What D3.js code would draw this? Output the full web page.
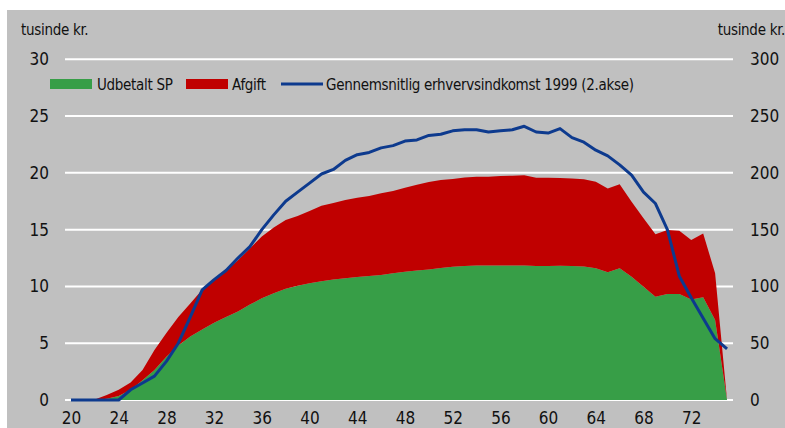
<!DOCTYPE html>
<meta charset="utf-8">
<style>
body { margin: 0; background: #fff; }
svg text { font-family: "Liberation Sans Narrow", "DejaVu Sans Condensed", sans-serif; fill: #111; }
.grid line { stroke: #fff; stroke-width: 2px; }
.avgline { fill: none; stroke: #0d3a8e; stroke-width: 3px; stroke-linejoin: round; }
</style>
<body>
<script src="https://d3js.org/d3.v7.min.js"></script>
<svg id="chart" width="785" height="428"></svg>
<script>
  var ages = d3.range(20, 76);
  var udbetalt = [0, 0, 0, 0.1, 0.35, 0.9, 1.75, 2.65, 3.8, 4.8,
                  5.6, 6.2, 6.8, 7.3, 7.8, 8.4, 8.95, 9.4, 9.8, 10.05,
                  10.27, 10.45, 10.62, 10.72, 10.82, 10.92, 11.0, 11.15, 11.3, 11.4,
                  11.5, 11.62, 11.74, 11.8, 11.85, 11.85, 11.85, 11.85, 11.85, 11.8,
                  11.8, 11.82, 11.8, 11.75, 11.6, 11.24, 11.6, 10.86, 9.98, 9.1,
                  9.33, 9.33, 8.86, 9.04, 7.04, 0];
  var afgift = [0, 0, 0.05, 0.35, 0.55, 0.65, 0.9, 1.75, 2.1, 2.5,
                2.9, 3.5, 3.7, 4.1, 4.5, 4.95, 5.45, 5.8, 6.05, 6.15,
                6.38, 6.65, 6.73, 6.88, 6.98, 7.05, 7.2, 7.25, 7.4, 7.55,
                7.7, 7.75, 7.71, 7.8, 7.81, 7.81, 7.87, 7.9, 7.93, 7.77,
                7.77, 7.72, 7.7, 7.68, 7.62, 7.39, 7.4, 6.6, 6.02, 5.5,
                5.63, 5.57, 5.22, 5.63, 4.11, 0];
  var indkomst = [0, 0, 0, 0, 0, 9, 15, 21, 34, 50,
                  73, 97, 106, 114, 125, 135, 150, 163, 175, 183,
                  191, 199, 203, 211, 216, 218, 222, 224, 228, 229,
                  233, 234, 237, 238, 238, 236, 237, 238, 241, 236,
                  235, 239, 231, 227, 220, 215, 207, 198, 183, 173,
                  150, 109, 90, 72, 54, 45];
  var leftTicks = [0, 5, 10, 15, 20, 25, 30];
  var rightTicks = [0, 50, 100, 150, 200, 250, 300];
  var xTicks = [20, 24, 28, 32, 36, 40, 44, 48, 52, 56, 60, 64, 68, 72];

  var plot = {left: 65, right: 733, top: 59.3, bottom: 400};

  var svg = d3.select('#chart');

  // grey panel
  svg.append('rect')
    .attr('x', 7).attr('y', 10)
    .attr('width', 778).attr('height', 418)
    .attr('fill', '#c0c0c0');

  var xScale = d3.scalePoint()
    .domain(ages)
    .range([plot.left, plot.right])
    .padding(0.5);
  var yLeft = d3.scaleLinear().domain([0, 30]).range([plot.bottom, plot.top]);
  var yRight = d3.scaleLinear().domain([0, 300]).range([plot.bottom, plot.top]);

  svg.append('g')
    .attr('class', 'grid')
    .selectAll('line')
    .data(leftTicks)
    .join('line')
      .attr('x1', plot.left).attr('x2', plot.right)
      .attr('y1', function(d) { return yLeft(d); })
      .attr('y2', function(d) { return yLeft(d); });

  var data = ages.map(function(a, i) {
    return {age: a, sp: udbetalt[i], afgift: afgift[i], ind: indkomst[i]};
  });
  var series = d3.stack().keys(['sp', 'afgift'])(data);
  var colors = {sp: '#379e47', afgift: '#c00000'};

  var area = d3.area()
    .x(function(d) { return xScale(d.data.age); })
    .y0(function(d) { return yLeft(d[0]); })
    .y1(function(d) { return yLeft(d[1]); });

  svg.append('g')
    .selectAll('path')
    .data(series)
    .join('path')
      .attr('fill', function(d) { return colors[d.key]; })
      .attr('d', area);

  var line = d3.line()
    .x(function(d) { return xScale(d.age); })
    .y(function(d) { return yRight(d.ind); });

  svg.append('path')
    .datum(data)
    .attr('class', 'avgline')
    .attr('d', line);

  // axes, drawn with d3 axes but without domain/tick lines
  var axLeft = svg.append('g')
    .attr('transform', 'translate(51,0)')
    .call(d3.axisLeft(yLeft).tickValues(leftTicks).tickSize(0).tickPadding(2));
  var axRight = svg.append('g')
    .attr('transform', 'translate(748,0)')
    .call(d3.axisRight(yRight).tickValues(rightTicks).tickSize(0).tickPadding(2));
  var axBottom = svg.append('g')
    .attr('transform', 'translate(0,' + 412 + ')')
    .call(d3.axisBottom(xScale).tickValues(xTicks).tickSize(0).tickPadding(0));
  [axLeft, axRight, axBottom].forEach(function(ax) {
    ax.select('.domain').remove();
    ax.selectAll('text').attr('font-size', 17).attr('fill', '#111')
      .style('font-family', '"Liberation Sans Narrow", "DejaVu Sans Condensed", sans-serif');
  });

  svg.append('text')
    .attr('x', 21).attr('y', 35)
    .attr('font-size', 15)
    .attr('letter-spacing', -0.3)
    .text('tusinde kr.');
  svg.append('text')
    .attr('x', 785).attr('y', 35)
    .attr('text-anchor', 'end')
    .attr('font-size', 15)
    .attr('letter-spacing', -0.3)
    .text('tusinde kr.');

  // legend
  var legend = svg.append('g').attr('font-size', 15).attr('letter-spacing', -0.3);
  legend.append('rect').attr('x', 50).attr('y', 79).attr('width', 42).attr('height', 10).attr('fill', colors.sp);
  legend.append('text').attr('x', 97).attr('y', 89.5).text('Udbetalt SP');
  legend.append('rect').attr('x', 186).attr('y', 79).attr('width', 42).attr('height', 10).attr('fill', colors.afgift);
  legend.append('text').attr('x', 232).attr('y', 89.5).text('Afgift');
  legend.append('line').attr('x1', 281).attr('x2', 323).attr('y1', 84).attr('y2', 84)
    .attr('stroke', '#0d3a8e').attr('stroke-width', 3);
  legend.append('text').attr('x', 326).attr('y', 89.5).text('Gennemsnitlig erhvervsindkomst 1999 (2.akse)');
</script>
</body>
